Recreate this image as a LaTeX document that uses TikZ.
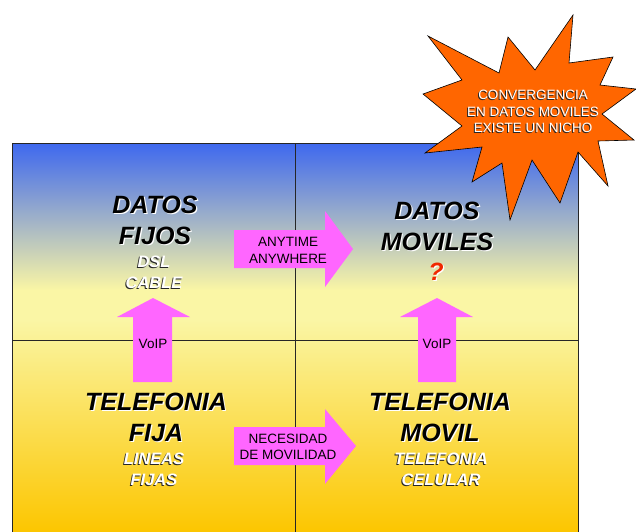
\documentclass[tikz,border=0pt]{standalone}
\usepackage{fontspec}
\setmainfont{Liberation Sans}
\usepackage{xcolor}
\usepackage{tikz}
\usetikzlibrary{positioning}

\definecolor{skyblue}{RGB}{62,104,238}
\definecolor{paleyellow}{RGB}{250,246,165}
\definecolor{gold}{RGB}{252,198,0}
\definecolor{pinkarrow}{RGB}{255,102,255}
\definecolor{starorange}{RGB}{255,102,0}
\definecolor{qred}{RGB}{240,40,0}

% black letters with a white shadow, white letters with a dark one
\newcommand{\darktxt}[2][black]{\makebox[0pt][l]{\kern1.2pt\raisebox{-1.2pt}{\color{white}#2}}{\color{#1}#2}}
\newcommand{\lighttxt}[1]{\makebox[0pt][l]{\kern-1pt\raisebox{-1pt}{\color{black!85}#1}}{\color{white}#1}}

\begin{document}
\begin{tikzpicture}[
    x=1pt, y=-1pt,
    title/.style={align=center, inner sep=0pt, font=\fontsize{25}{31}\selectfont\bfseries\itshape},
    subtitle/.style={align=center, inner sep=0pt, font=\fontsize{16.5}{20.5}\selectfont\bfseries\itshape},
    tag/.style={align=center, inner sep=0pt, font=\fontsize{13.5}{16.5}\selectfont},
    blockarrow/.style={fill=pinkarrow},
    quadline/.style={draw=black!85, line width=0.9pt},
    burst/.style={fill=starorange, draw=black, line width=0.6pt, line join=miter}
]
\useasboundingbox (0,0) rectangle (636,531);

% background of the four quadrants
\shade[top color=skyblue, bottom color=paleyellow] (12,143) rectangle (578,290);
\fill[paleyellow] (12,289.5) rectangle (578,320);
\shade[top color=paleyellow, bottom color=gold] (12,319.5) rectangle (578,532);
\draw[quadline] (12,532) -- (12,143) -- (578,143) -- (578,532);
\draw[quadline] (295,143) -- (295,532);
\draw[quadline] (12,340) -- (578,340);

% block arrows
\fill[blockarrow] (234,230) -- (325,230) -- (325,211) -- (353,249) -- (325,287) -- (325,268) -- (234,268) -- cycle;
\fill[blockarrow] (234,427) -- (325,427) -- (325,409) -- (356,446) -- (325,484) -- (325,465) -- (234,465) -- cycle;
\fill[blockarrow] (133,382) -- (133,317) -- (117,317) -- (153,298) -- (190,317) -- (172,317) -- (172,382) -- cycle;
\fill[blockarrow] (418,382) -- (418,317) -- (400,317) -- (437,298) -- (473,317) -- (456,317) -- (456,382) -- cycle;

% the burst
\filldraw[burst] (428,36) -- (499,73) -- (508,37) -- (535,70) -- (573,15) -- (569,63) -- (613,57)
    -- (600,85) -- (636,89) -- (602,114) -- (634,140) -- (598,141) -- (608,186) -- (578,152)
    -- (560,203) -- (532,160) -- (510,220) -- (502,163) -- (472,182) -- (482,147) -- (425,153)
    -- (462,126) -- (423,94) -- (462,80) -- cycle;

% labels
\node (datosfijos) [title] at (155,221) {\darktxt{DATOS}\\\darktxt{FIJOS}};
\node (dslcable) [subtitle] at (154,273) {\lighttxt{DSL}\\\lighttxt{CABLE}};
\node (datosmoviles) [title] at (437,226.5) {\darktxt{DATOS}\\\darktxt{MOVILES}};
\node (duda) [title] at (436,272) {\darktxt[qred]{?}};
\node (telfija) [title] at (156,418) {\darktxt{TELEFONIA}\\\darktxt{FIJA}};
\node (lineas) [subtitle] at (154,470) {\lighttxt{LINEAS}\\\lighttxt{FIJAS}};
\node (telmovil) [title] at (440,418) {\darktxt{TELEFONIA}\\\darktxt{MOVIL}};
\node (celular) [subtitle] at (441,470) {\lighttxt{TELEFONIA}\\\lighttxt{CELULAR}};

\node (anytime) [tag] at (288,250.5) {ANYTIME\\ANYWHERE};
\node (necesidad) [tag] at (288,447) {NECESIDAD\\DE MOVILIDAD};
\node (voipfijo) [tag] at (153,344) {VoIP};
\node (voipmovil) [tag] at (437,344) {VoIP};
\node (nicho) [tag] at (533,112) {\lighttxt{CONVERGENCIA}\\\lighttxt{EN DATOS MOVILES}\\\lighttxt{EXISTE UN NICHO}};

\end{tikzpicture}
\end{document}
